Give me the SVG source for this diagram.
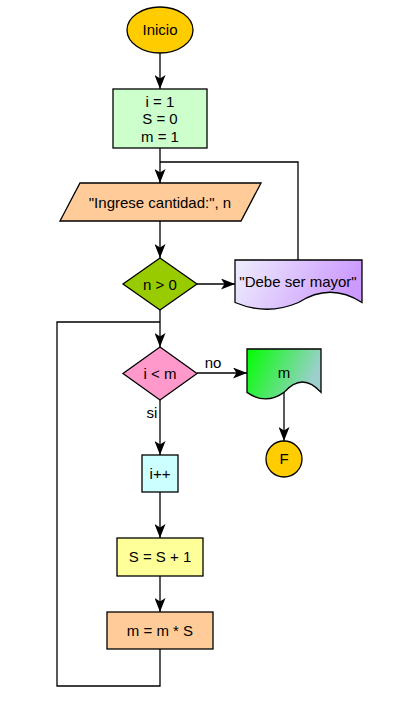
<svg xmlns="http://www.w3.org/2000/svg" width="405" height="711" viewBox="0 0 405 711">
<defs>
<style>
.s{stroke:#000;stroke-width:1.3}
.t{font-family:"Liberation Sans",Arial,sans-serif;font-size:15px;fill:#000;text-anchor:middle}
.c{fill:none;stroke:#000;stroke-width:1.3}
</style>
<marker id="a" markerUnits="userSpaceOnUse" viewBox="0 0 14 11" markerWidth="14" markerHeight="11" refX="14" refY="5.5" orient="auto">
<path d="M0,0 L14,5.5 L0,11 L3.5,5.5 Z" fill="#000"/>
</marker>
<linearGradient id="gp" x1="0" y1="0" x2="1" y2="0.2">
<stop offset="0" stop-color="#EEEEFC"/>
<stop offset="1" stop-color="#CC99FF"/>
</linearGradient>
<linearGradient id="gg" x1="0" y1="0" x2="1" y2="0.3">
<stop offset="0" stop-color="#00FF00"/>
<stop offset="1" stop-color="#9DCFCF"/>
</linearGradient>
</defs>
<rect width="405" height="711" fill="#fff"/>
<g id="connectors">
<path class="c" d="M160,53 V89" marker-end="url(#a)"/>
<path class="c" d="M160,148 V183" marker-end="url(#a)"/>
<path class="c" d="M298,260 V162 H160"/>
<path class="c" d="M160,221 V258" marker-end="url(#a)"/>
<path class="c" d="M197,284 H235" marker-end="url(#a)"/>
<path class="c" d="M160,310 V347" marker-end="url(#a)"/>
<path class="c" d="M160,649 V686 H57 V322 H160"/>
<path class="c" d="M197,373 H247" marker-end="url(#a)"/>
<text class="t" x="213" y="368">no</text>
<path class="c" d="M284,392 V441" marker-end="url(#a)"/>
<path class="c" d="M160,400 V455" marker-end="url(#a)"/>
<text class="t" x="152" y="418">si</text>
<path class="c" d="M160,492 V538" marker-end="url(#a)"/>
<path class="c" d="M160,576 V612" marker-end="url(#a)"/>
</g>
<g id="inicio">
<ellipse class="s" cx="160" cy="30" rx="33" ry="23" fill="#FFCC00"/>
<text class="t" x="160" y="35">Inicio</text>
</g>
<g id="init">
<rect class="s" x="113" y="89" width="94" height="59" fill="#CCFFCC"/>
<text class="t" x="160" y="107">i = 1</text>
<text class="t" x="160" y="124">S = 0</text>
<text class="t" x="160" y="142">m = 1</text>
</g>
<g id="input">
<polygon class="s" points="80,183 261,183 241,221 60,221" fill="#FFCC99"/>
<text class="t" x="160" y="208">"Ingrese cantidad:", n</text>
</g>
<g id="cond1">
<polygon class="s" points="160,258 197,284 160,310 123,284" fill="#99CC00"/>
<text class="t" x="160" y="290">n &gt; 0</text>
</g>
<g id="msg">
<path class="s" d="M235,260 H362 V302.5 Q330.25,282 298.5,302.5 Q266.75,316 235,302.5 Z" fill="url(#gp)"/>
<text class="t" x="298" y="287">"Debe ser mayor"</text>
</g>
<g id="cond2">
<polygon class="s" points="160,347 197,373.5 160,400 123,373.5" fill="#FF99CC"/>
<text class="t" x="160" y="379">i &lt; m</text>
</g>
<g id="out">
<path class="s" d="M247,349 H321 V392.4 Q302.5,371.6 284,392.4 Q265.5,405.5 247,392.4 Z" fill="url(#gg)"/>
<text class="t" x="284" y="378">m</text>
</g>
<g id="fin">
<circle class="s" cx="284" cy="459" r="18" fill="#FFCC00"/>
<text class="t" x="284" y="464">F</text>
</g>
<g id="inc">
<rect class="s" x="142" y="455" width="36" height="37" fill="#CCFFFF"/>
<text class="t" x="160" y="479">i++</text>
</g>
<g id="sum">
<rect class="s" x="117" y="538" width="86" height="38" fill="#FFFF99"/>
<text class="t" x="160" y="562">S = S + 1</text>
</g>
<g id="mul">
<rect class="s" x="107" y="612" width="106" height="37" fill="#FFCC99"/>
<text class="t" x="160" y="636">m = m * S</text>
</g>
</svg>
